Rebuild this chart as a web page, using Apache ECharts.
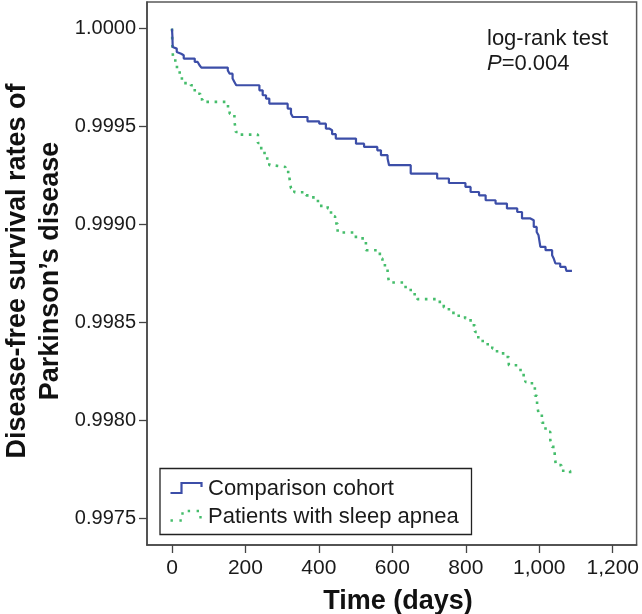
<!DOCTYPE html>
<html>
<head>
<meta charset="utf-8">
<script src="https://cdn.jsdelivr.net/npm/echarts@6/dist/echarts.min.js"></script>
<style>
html,body{margin:0;padding:0;background:#fff;}
#chart{width:642px;height:614px;}
</style>
</head>
<body>
<div id="chart"></div>
<script>
// ---- Data ----
const comparisonDays = [0, 1, 2, 7, 13, 18, 25, 32, 62, 70, 75, 80, 152, 157, 165, 170, 175, 238, 247, 256, 265, 315, 324, 329, 369, 401, 419, 428, 436, 446, 501, 523, 559, 569, 587, 591, 650, 722, 754, 799, 813, 836, 854, 881, 912, 940, 953, 976, 985, 993, 998, 1003, 1017, 1035, 1039, 1044, 1057, 1071, 1074, 1089];
const comparisonSurvival = [1.0, 0.999966, 0.999906, 0.999898, 0.999881, 0.999872, 0.999864, 0.999847, 0.999830, 0.999821, 0.999813, 0.999801, 0.999787, 0.999770, 0.999745, 0.999728, 0.999711, 0.999685, 0.999660, 0.999643, 0.999617, 0.999592, 0.999566, 0.999549, 0.999527, 0.999515, 0.999490, 0.999481, 0.999461, 0.999439, 0.999413, 0.999396, 0.999379, 0.999354, 0.999337, 0.999303, 0.999260, 0.999235, 0.999212, 0.999192, 0.999166, 0.999149, 0.999124, 0.999107, 0.999082, 0.999064, 0.999031, 0.999022, 0.998988, 0.998962, 0.998945, 0.998886, 0.998869, 0.998843, 0.998828, 0.998801, 0.998784, 0.998776, 0.998763, 0.998763];

const apneaDays = [0, 1, 3, 9, 21, 27, 51, 62, 77, 83, 148, 157, 170, 174, 184, 234, 243, 252, 265, 273, 309, 320, 324, 333, 365, 385, 401, 424, 433, 444, 451, 496, 519, 528, 566, 573, 587, 591, 636, 650, 668, 722, 740, 754, 777, 798, 813, 825, 834, 846, 872, 885, 908, 917, 941, 949, 962, 980, 988, 994, 998, 1007, 1017, 1030, 1035, 1042, 1045, 1060, 1084];
const apneaSurvival = [1.0, 0.999915, 0.999847, 0.999804, 0.999765, 0.999722, 0.999711, 0.999668, 0.999639, 0.999626, 0.999604, 0.999566, 0.999529, 0.999472, 0.999459, 0.999416, 0.999376, 0.999337, 0.999303, 0.999294, 0.999268, 0.999235, 0.999185, 0.999165, 0.999149, 0.999120, 0.999095, 0.999082, 0.999042, 0.999005, 0.998959, 0.998937, 0.998911, 0.998869, 0.998827, 0.998792, 0.998750, 0.998704, 0.998673, 0.998644, 0.998619, 0.998605, 0.998577, 0.998549, 0.998534, 0.998520, 0.998486, 0.998452, 0.998418, 0.998389, 0.998367, 0.998342, 0.998324, 0.998282, 0.998273, 0.998231, 0.998197, 0.998171, 0.998126, 0.998078, 0.998036, 0.997988, 0.997942, 0.997900, 0.997865, 0.997823, 0.997772, 0.997743, 0.997730];

const seriesNames = ['Comparison cohort', 'Patients with sleep apnea'];
const xTicks = [0, 200, 400, 600, 800, 1000, 1200];
const xTickLabels = ['0', '200', '400', '600', '800', '1,000', '1,200'];
const yTicks = [0.9975, 0.9980, 0.9985, 0.9990, 0.9995, 1.0000];
const yTickLabels = ['0.9975', '0.9980', '0.9985', '0.9990', '0.9995', '1.0000'];
const xTitle = 'Time (days)';
const yTitle = 'Disease-free survival rates of\nParkinson\u2019s disease';
const annotation1 = 'log-rank test';
const annotation2 = '=0.004';

// ---- Chart ----
const FONT = '"Liberation Sans", Arial, Helvetica, sans-serif';
const BLUE = '#3c4ea8';
const GREEN = '#45bd6b';
const chart = echarts.init(document.getElementById('chart'), null, {renderer: 'canvas'});

function lookup(ticks, labels, v) {
  for (let i = 0; i < ticks.length; i++) {
    if (Math.abs(ticks[i] - v) < 1e-7) return labels[i];
  }
  return '';
}

const option = {
  backgroundColor: '#ffffff',
  animation: false,
  grid: {
    left: 147, top: 2, right: 4, bottom: 69,
    show: true, borderColor: '#5a5a5a', borderWidth: 1.5, backgroundColor: 'transparent'
  },
  xAxis: {
    type: 'value',
    min: -68, max: 1265,
    splitLine: {show: false},
    axisLine: {show: true, onZero: false, lineStyle: {color: '#444', width: 1.5}},
    axisTick: {show: true, inside: false, length: 8, customValues: xTicks, lineStyle: {color: '#444', width: 1.3}},
    axisLabel: {
      show: true, customValues: xTicks, margin: 13,
      fontFamily: FONT, fontSize: 21, color: '#1a1a1a',
      formatter: v => lookup(xTicks, xTickLabels, v)
    }
  },
  yAxis: {
    type: 'value',
    min: 0.997364, max: 1.000136,
    splitLine: {show: false},
    axisLine: {show: true, onZero: false, lineStyle: {color: '#444', width: 1.5}},
    axisTick: {show: true, inside: false, length: 8, customValues: yTicks, lineStyle: {color: '#444', width: 1.3}},
    axisLabel: {
      show: true, customValues: yTicks, margin: 11,
      fontFamily: FONT, fontSize: 20, color: '#1a1a1a',
      formatter: v => lookup(yTicks, yTickLabels, v)
    }
  },
  series: [
    {
      name: seriesNames[0], type: 'line', step: 'end', symbol: 'none',
      data: comparisonDays.map((d, i) => [d, comparisonSurvival[i]]),
      lineStyle: {color: BLUE, width: 2.2},
      z: 3
    },
    {
      name: seriesNames[1], type: 'line', step: 'end', symbol: 'none',
      data: apneaDays.map((d, i) => [d, apneaSurvival[i]]),
      lineStyle: {color: GREEN, width: 2.6, type: [2.6, 5.6], cap: 'butt'},
      z: 2
    }
  ],
  graphic: [
    {
      type: 'text', x: 34, y: 271, rotation: Math.PI / 2, z: 10,
      style: {
        text: yTitle, font: 'bold 27px ' + FONT, fill: '#111',
        textAlign: 'center', textVerticalAlign: 'middle', align: 'center', verticalAlign: 'middle',
        lineHeight: 33
      }
    },
    {
      type: 'text', x: 398, y: 602, z: 10,
      style: {
        text: xTitle, font: 'bold 27px ' + FONT, fill: '#111',
        textAlign: 'center', textVerticalAlign: 'middle', align: 'center', verticalAlign: 'middle'
      }
    },
    {
      type: 'text', x: 487, y: 39, z: 10,
      style: {
        text: annotation1, font: '22px ' + FONT, fill: '#1a1a1a',
        textAlign: 'left', textVerticalAlign: 'middle', align: 'left', verticalAlign: 'middle'
      }
    },
    {
      type: 'text', x: 487, y: 64, z: 10,
      style: {
        text: '{i|P}{n|' + annotation2 + '}',
        textAlign: 'left', textVerticalAlign: 'middle', align: 'left', verticalAlign: 'middle',
        rich: {
          i: {font: 'italic 22px ' + FONT, fill: '#1a1a1a', fontStyle: 'italic', fontSize: 22, fontFamily: FONT},
          n: {font: '22px ' + FONT, fill: '#1a1a1a', fontSize: 22, fontFamily: FONT}
        }
      }
    },
    {
      type: 'rect', z: 20,
      shape: {x: 160, y: 468.5, width: 311.5, height: 66},
      style: {fill: '#fff', stroke: '#222', lineWidth: 1.3}
    },
    {
      type: 'polyline', z: 21,
      shape: {points: [[170.5, 493], [181.5, 493], [181.5, 483], [201.5, 483], [201.5, 487]]},
      style: {stroke: BLUE, lineWidth: 2.2, fill: null}
    },
    {
      type: 'polyline', z: 21,
      shape: {points: [[170.5, 520.5], [182.5, 520.5], [182.5, 511], [200.5, 511], [200.5, 520.5]]},
      style: {stroke: GREEN, lineWidth: 2.4, lineDash: [2.4, 6.5], fill: null}
    },
    {
      type: 'text', x: 208, y: 489, z: 21,
      style: {
        text: seriesNames[0], font: '22px ' + FONT, fill: '#1a1a1a',
        textAlign: 'left', textVerticalAlign: 'middle', align: 'left', verticalAlign: 'middle'
      }
    },
    {
      type: 'text', x: 208, y: 517, z: 21,
      style: {
        text: seriesNames[1], font: '22px ' + FONT, fill: '#1a1a1a',
        textAlign: 'left', textVerticalAlign: 'middle', align: 'left', verticalAlign: 'middle'
      }
    }
  ]
};
chart.setOption(option);
</script>
</body>
</html>
